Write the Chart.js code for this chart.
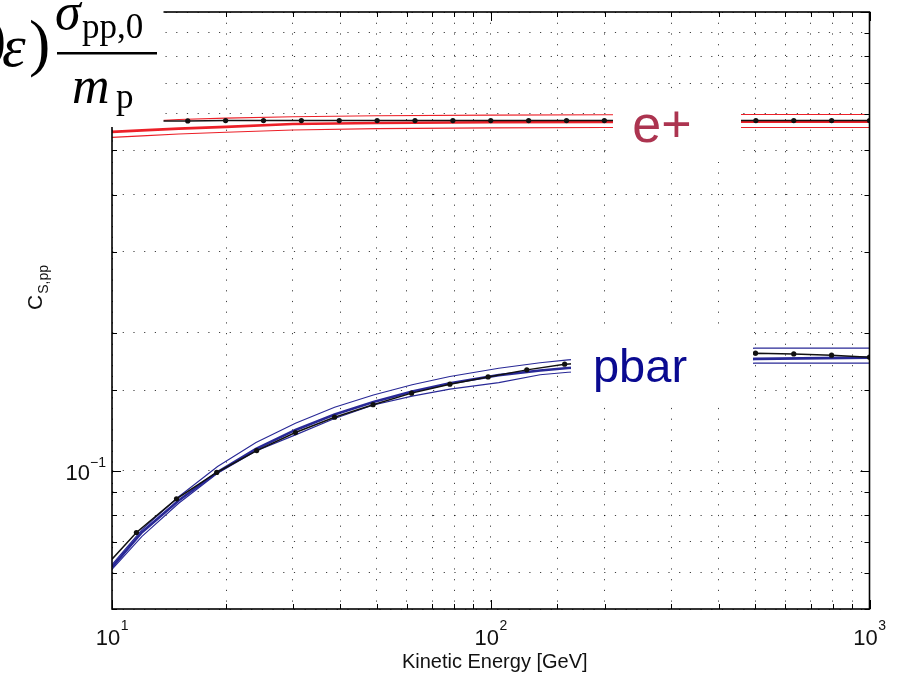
<!DOCTYPE html>
<html>
<head>
<meta charset="utf-8">
<script src="https://cdn.jsdelivr.net/npm/chart.js@4.4.1/dist/chart.umd.min.js"></script>
<style>
  html, body { margin: 0; padding: 0; background: #fff; }
  #wrap { width: 898px; height: 679px; }
</style>
</head>
<body>
<div id="wrap"><canvas id="chart" width="898" height="679"></canvas></div>
<script>
// e+ : reference curve with markers (black)
const posEnergy = [10, 12.59, 15.85, 19.95, 25.12, 31.62, 39.81, 50.12, 63.10, 79.43, 100, 125.9, 158.5, 199.5, 251.2, 316.2, 398.1, 501.2, 631.0, 794.3, 1000];
const posRef = [0.579, 0.579, 0.579, 0.58, 0.58, 0.58, 0.58, 0.58, 0.58, 0.58, 0.58, 0.58, 0.58, 0.58, 0.58, 0.58, 0.58, 0.58, 0.58, 0.58, 0.58];

// e+ : fit band (red)
const bandEnergy = [10, 12, 15, 20, 30, 50, 100, 200, 500, 1000];
const posMid = [0.548, 0.552, 0.557, 0.562, 0.570, 0.573, 0.575, 0.576, 0.577, 0.577];
const posHigh = [0.572, 0.577, 0.583, 0.587, 0.591, 0.594, 0.596, 0.597, 0.598, 0.598];
const posLow = [0.533, 0.537, 0.542, 0.547, 0.553, 0.557, 0.559, 0.560, 0.560, 0.560];

// pbar : reference curve with markers (black)
const pbarEnergy = [10, 11.6, 14.8, 18.9, 24.1, 30.5, 38.7, 48.9, 61.8, 78, 98.4, 124.5, 156.7, 500, 631, 794, 1000];
const pbarRef = [0.0642, 0.0734, 0.0869, 0.0992, 0.1107, 0.1212, 0.1309, 0.1394, 0.1477, 0.1545, 0.1602, 0.166, 0.1708, 0.1805, 0.1798, 0.1787, 0.1769];

// pbar : fit band (blue)
const pbarBandEnergy = [10, 12, 15, 19, 24, 30.5, 38.7, 49, 62, 78, 105, 135, 160, 500, 1000];
const pbarMid = [0.0617, 0.0735, 0.0862, 0.0994, 0.1116, 0.1228, 0.1327, 0.1413, 0.1489, 0.1552, 0.1617, 0.1655, 0.1675, 0.1754, 0.1765];
const pbarHigh = [0.0625, 0.0745, 0.0878, 0.1022, 0.1153, 0.127, 0.1376, 0.1464, 0.154, 0.1605, 0.1674, 0.1721, 0.1745, 0.1851, 0.1851];
const pbarLow = [0.061, 0.072, 0.085, 0.0988, 0.1105, 0.1198, 0.130, 0.1392, 0.1455, 0.1507, 0.1557, 0.162, 0.164, 0.1717, 0.1717];

const xTicks = [10, 100, 1000];
const yTicks = [0.1];

function pts(xs, ys) {
    return xs.map((x, i) => ({x: x, y: ys[i]}));
}

const RED = 'rgb(236, 32, 40)';
const BLUE = 'rgb(40, 40, 150)';

function line(data, color, width, extra) {
    return Object.assign({
        data: data,
        borderColor: color,
        backgroundColor: color,
        borderWidth: width,
        pointRadius: 0,
        fill: false
    }, extra || {});
}

const overlay = {
    id: 'overlay',
    afterDraw(chart) {
        const {ctx, chartArea: a, scales: {x, y}} = chart;
        ctx.save();

        // inner tick marks on all four sides
        ctx.strokeStyle = '#000';
        ctx.lineWidth = 1;
        x.ticks.forEach(t => {
            const px = Math.round(x.getPixelForValue(t.value)) + 0.5;
            const len = Number.isInteger(Math.log10(t.value)) ? 9 : 5;
            ctx.beginPath();
            ctx.moveTo(px, a.bottom); ctx.lineTo(px, a.bottom - len);
            ctx.moveTo(px, a.top); ctx.lineTo(px, a.top + len);
            ctx.stroke();
        });
        y.ticks.forEach(t => {
            const py = Math.round(y.getPixelForValue(t.value)) + 0.5;
            const len = Math.abs(Math.log10(t.value) - Math.round(Math.log10(t.value))) < 1e-9 ? 9 : 5;
            ctx.beginPath();
            ctx.moveTo(a.left, py); ctx.lineTo(a.left + len, py);
            ctx.moveTo(a.right, py); ctx.lineTo(a.right - len, py);
            ctx.stroke();
        });

        // frame
        ctx.lineWidth = 1.6;
        ctx.strokeRect(a.left, a.top, a.right - a.left, a.bottom - a.top);

        // tick labels with superscripts
        ctx.fillStyle = '#111';
        ctx.textBaseline = 'alphabetic';
        ctx.textAlign = 'left';
        xTicks.forEach(v => {
            const px = x.getPixelForValue(v);
            const exp = String(Math.round(Math.log10(v)));
            ctx.font = '22px "Liberation Sans", Arial, sans-serif';
            const w1 = ctx.measureText('10').width;
            ctx.font = '14px "Liberation Sans", Arial, sans-serif';
            const w2 = ctx.measureText(exp).width;
            const sx = px - (w1 + w2) / 2;
            ctx.font = '22px "Liberation Sans", Arial, sans-serif';
            ctx.fillText('10', sx, 645);
            ctx.font = '14px "Liberation Sans", Arial, sans-serif';
            ctx.fillText(exp, sx + w1 + 0.5, 630);
        });
        yTicks.forEach(v => {
            const py = y.getPixelForValue(v);
            const exp = '\u2212' + String(-Math.round(Math.log10(v)));
            ctx.font = '14px "Liberation Sans", Arial, sans-serif';
            const w2 = ctx.measureText(exp).width;
            ctx.font = '22px "Liberation Sans", Arial, sans-serif';
            const w1 = ctx.measureText('10').width;
            const ex = a.left - 6;
            ctx.fillText('10', ex - w2 - w1, py + 9);
            ctx.font = '14px "Liberation Sans", Arial, sans-serif';
            ctx.fillText(exp, ex - w2, py - 4);
        });

        // axis titles
        ctx.font = '20px "Liberation Sans", Arial, sans-serif';
        ctx.textAlign = 'center';
        ctx.fillText('Kinetic Energy [GeV]', (a.left + a.right) / 2 + 4, 668);

        ctx.save();
        ctx.translate(42, 288);
        ctx.rotate(-Math.PI / 2);
        ctx.textAlign = 'left';
        ctx.font = '21px "Liberation Sans", Arial, sans-serif';
        const wc = ctx.measureText('C').width;
        ctx.font = '14px "Liberation Sans", Arial, sans-serif';
        const ws = ctx.measureText('S,pp').width;
        const st = -(wc + ws) / 2;
        ctx.font = '21px "Liberation Sans", Arial, sans-serif';
        ctx.fillText('C', st, 0);
        ctx.font = '14px "Liberation Sans", Arial, sans-serif';
        ctx.fillText('S,pp', st + wc + 1, 6);
        ctx.restore();

        // in-plot labels on white boxes
        ctx.fillStyle = '#fff';
        ctx.fillRect(613, 92, 128, 70);
        ctx.fillRect(571, 325, 182, 80);
        ctx.textAlign = 'center';
        ctx.font = '52px "Liberation Sans", Arial, sans-serif';
        ctx.fillStyle = 'rgb(172, 52, 80)';
        ctx.fillText('e+', 662, 142);
        ctx.font = '47px "Liberation Sans", Arial, sans-serif';
        ctx.fillStyle = 'rgb(10, 10, 145)';
        ctx.fillText('pbar', 640, 382);

        // cropped formula in the top-left corner
        ctx.fillStyle = '#fff';
        ctx.fillRect(0, 0, 163.5, 127);
        ctx.fillStyle = '#000';
        ctx.textAlign = 'left';
        ctx.font = '64px "Liberation Serif", "Times New Roman", serif';
        ctx.fillText('0', -26, 64);
        ctx.fillText(')', 29, 64);
        ctx.font = 'italic 60px "Liberation Serif", "Times New Roman", serif';
        ctx.fillText('\u03b5', 2, 66);
        ctx.font = 'italic 52px "Liberation Serif", "Times New Roman", serif';
        ctx.fillText('\u03c3', 55, 29);
        ctx.fillText('m', 72, 103);
        ctx.font = '35px "Liberation Serif", "Times New Roman", serif';
        ctx.fillText('pp,0', 82, 38);
        ctx.fillText('p', 116, 108);
        ctx.fillRect(57, 52, 100, 2.5);

        ctx.restore();
    }
};

const gridOpts = {
    color: 'rgba(0, 0, 0, 0.75)',
    lineWidth: 1,
    drawTicks: false
};

new Chart(document.getElementById('chart').getContext('2d'), {
    type: 'line',
    data: {
        datasets: [
            line(pts(posEnergy, posRef), '#111', 1.5, {
                pointRadius: 2.6, pointBackgroundColor: '#111', pointBorderWidth: 0
            }),
            line(pts(pbarEnergy, pbarRef), '#111', 1.5, {
                pointRadius: pbarEnergy.map((e, i) => i === 0 ? 0 : 2.6),
                pointBackgroundColor: '#111', pointBorderWidth: 0
            }),
            line(pts(bandEnergy, posMid), RED, 2.6),
            line(pts(bandEnergy, posHigh), RED, 1.1),
            line(pts(bandEnergy, posLow), RED, 1.1),
            line(pts(pbarBandEnergy, pbarMid), BLUE, 2.6),
            line(pts(pbarBandEnergy, pbarHigh), BLUE, 1.1),
            line(pts(pbarBandEnergy, pbarLow), BLUE, 1.1)
        ]
    },
    options: {
        responsive: false,
        animation: false,
        layout: {
            padding: {left: 112, right: 28.5, top: 12, bottom: 70}
        },
        plugins: {
            legend: {display: false},
            tooltip: {enabled: false}
        },
        elements: {
            line: {tension: 0}
        },
        scales: {
            x: {
                type: 'logarithmic',
                min: 10,
                max: 1000,
                ticks: {display: false, autoSkip: false},
                grid: gridOpts,
                border: {display: false, dash: [1.2, 9.5]}
            },
            y: {
                type: 'logarithmic',
                min: 0.05,
                max: 1,
                ticks: {display: false, autoSkip: false},
                grid: gridOpts,
                border: {display: false, dash: [1.2, 9.5]}
            }
        }
    },
    plugins: [overlay]
});
</script>
</body>
</html>
